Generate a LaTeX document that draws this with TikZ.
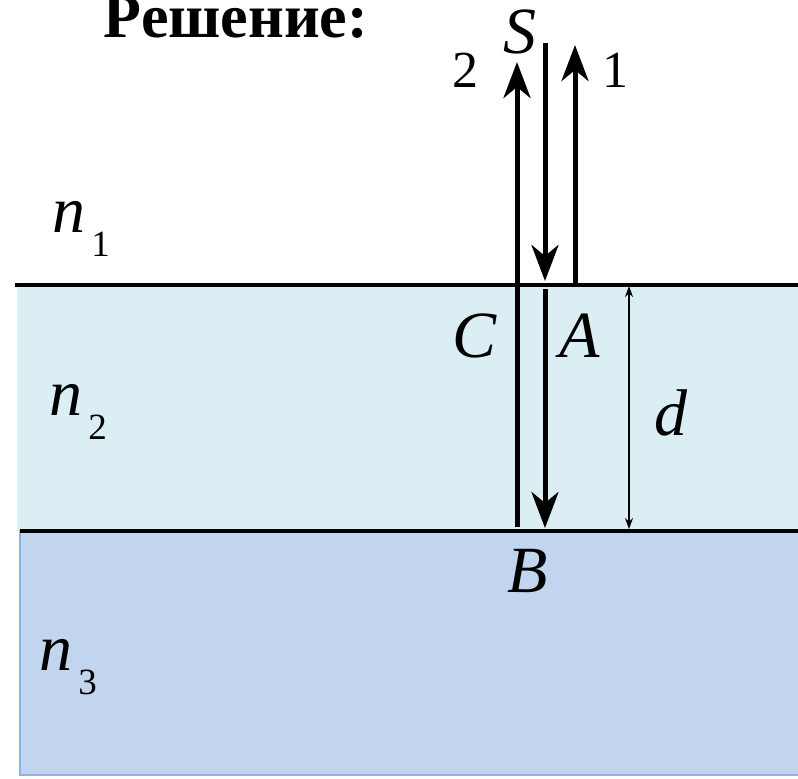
\documentclass[tikz,border=0pt]{standalone}
\usepackage{fontspec}
\setmainfont{Liberation Serif}
\usepackage{xcolor}
\usetikzlibrary{arrows.meta}
\definecolor{layertwo}{HTML}{DAEEF3}
\definecolor{layerthree}{HTML}{C2D5EE}
\definecolor{layeredge}{HTML}{8EB4E3}
\newcommand{\bigfs}{\fontsize{33}{35}\selectfont}
\newcommand{\subfs}{\fontsize{18.5}{20}\selectfont}
\newcommand{\idx}[2]{\textit{#1}\hspace{3pt}\raisebox{-12pt}{\subfs #2}}
\tikzset{
  ray/.style  = {line width=2.5pt, -{Stealth[length=18pt, width=13.5pt, inset=5.5pt]}},
  dimen/.style = {line width=0.7pt, {Stealth[length=5.5pt, width=4pt]}-{Stealth[length=5.5pt, width=4pt]}},
  bound/.style = {line width=1.75pt},
  lbl/.style  = {inner sep=0pt, anchor=base, font=\bigfs\itshape},
  num/.style  = {inner sep=0pt, anchor=base, font=\fontsize{26}{28}\selectfont},
  medium/.style = {inner sep=0pt, anchor=base west, font=\bigfs},
}

\begin{document}
\begin{tikzpicture}[x=0.5pt, y=-0.5pt]
  \useasboundingbox (0,0) rectangle (798,778);
  % layers
  \fill[layertwo] (17,286) rectangle (798,531);
  \draw[layeredge, line width=1pt, fill=layerthree] (798,775) -- (20,775) -- (20,531) -- (798,531);
  \fill[layerthree] (21,532) rectangle (798,774);
  \draw[bound] (15,285) -- (798,285);
  \draw[bound] (20,531) -- (798,531);

  % title
  \node[inner sep=0pt, anchor=base, font=\fontsize{31}{33}\selectfont\bfseries] (title) at (236,37) {Решение:};

  % ray points
  \coordinate (s0) at (545,43);
  \coordinate (a1) at (545,281);
  \coordinate (a2) at (545,289);
  \coordinate (b0) at (545,528);
  \coordinate (c0) at (517,527);
  \coordinate (c1) at (517,62);
  \coordinate (r0) at (575,286);
  \coordinate (r1) at (575,45);
  \coordinate (d0) at (629,286);
  \coordinate (d1) at (629,529);

  % rays
  \draw[ray] (s0) -- (a1);
  \draw[ray] (a2) -- (b0);
  \draw[ray] (c0) -- (c1);
  \draw[ray] (r0) -- (r1);
  \draw[dimen] (d0) -- (d1);

  % labels
  \node[lbl] (S) at (520,53) {S};
  \node[num] (two) at (465,87) {2};
  \node[num] (one) at (615,87) {1};
  \node[lbl] (C) at (475,357) {C};
  \node[lbl] (A) at (580,357) {A};
  \node[lbl] (B) at (528,592) {B};
  \node[lbl] (d) at (671,435) {d};
  \node[medium] (n1) at (52,232) {\idx{n}{1}};
  \node[medium] (n2) at (49,415) {\idx{n}{2}};
  \node[medium] (n3) at (39,670) {\idx{n}{3}};
\end{tikzpicture}
\end{document}
